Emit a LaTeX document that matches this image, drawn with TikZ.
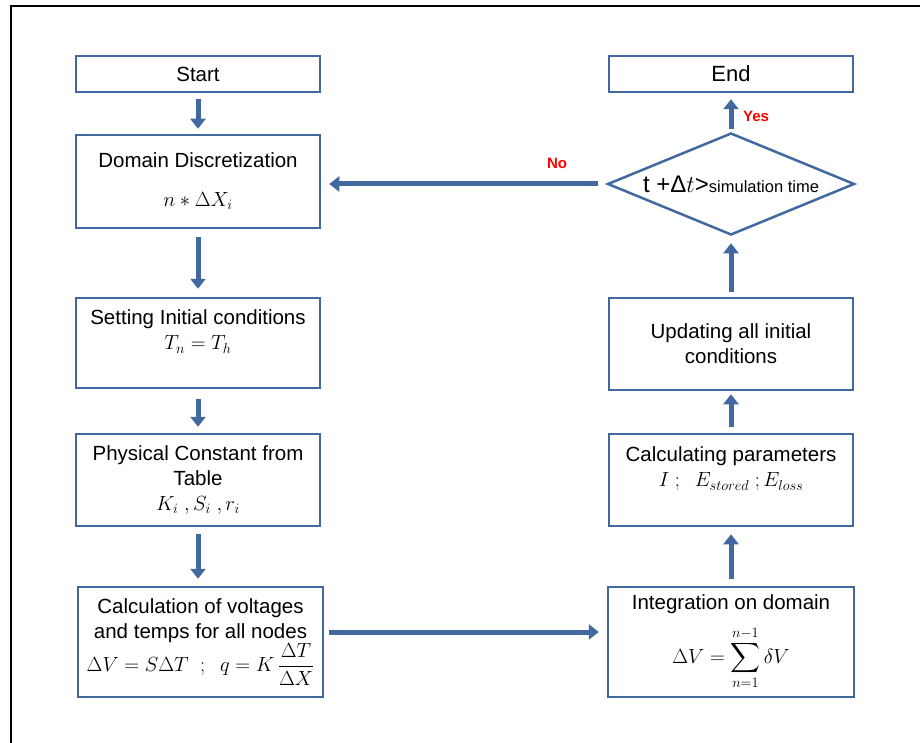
\documentclass[tikz,border=0pt]{standalone}
\usepackage{fix-cm}
\usepackage{amsmath}
\usepackage{fontspec}
\setmainfont{Liberation Sans}
\usetikzlibrary{arrows.meta,shapes.geometric}
\definecolor{flowblue}{RGB}{65,105,160}

\begin{document}
\begin{tikzpicture}[x=1pt,y=-1pt,
    box/.style={draw=flowblue,line width=2.5pt,minimum width=244pt,align=center,inner sep=2pt,font=\fontsize{20.5}{25}\selectfont},
    flow/.style={-{Triangle[width=15pt,length=10pt]},draw=flowblue,line width=5pt},
    answer/.style={text=red,font=\fontsize{15}{18}\selectfont\bfseries}]
        \useasboundingbox (0,0) rectangle (920,743);
        % Frame
        \draw[line width=2.5pt] (920,6) -- (11,6) -- (11,743);
        % Left column
        \node[box,minimum height=36pt] (start) at (198,74) {Start};
        \node[box,minimum height=93pt] (domain) at (198,181.5) {Domain Discretization\\[14pt] $n \ast \Delta X_i$};
        \node[box,minimum height=90pt] (setting) at (198,343) {Setting Initial conditions\\ $T_n = T_h$\rule[-26pt]{0pt}{0pt}};
        \node[box,minimum height=92pt] (physical) at (198,480) {Physical Constant from\\ Table\\ $K_i\ ,S_i\ ,r_i$};
        \node[box,minimum height=110pt,minimum width=245pt] (calc) at (200.5,642) {Calculation of voltages\\ and temps for all nodes\\ $\Delta V = S\Delta T\ \ ;\ \ q = K\,\dfrac{\Delta T}{\Delta X}$};
        % Right column
        \node[box,minimum height=36pt,font=\fontsize{22}{25}\selectfont] (end) at (731,74) {End};
        \node[draw=flowblue,line width=2.5pt,diamond,minimum width=247pt,minimum height=102pt,inner sep=0pt] (check) at (731,184)
          {\makebox[0pt]{{\fontsize{24}{26}\selectfont t +Δ$t$>}{\fontsize{16.5}{18}\selectfont simulation time}}};
        \node[box,minimum height=92pt] (update) at (731,344) {Updating all initial\\ conditions};
        \node[box,minimum height=92pt] (param) at (731,480) {Calculating parameters\\ $I\ ;\ \ E_{stored}\ ; E_{loss}$\rule[-26pt]{0pt}{0pt}};
        \node[box,minimum height=110pt,minimum width=246pt] (integ) at (731,642) {Integration on domain\\[11pt] $\displaystyle \Delta V = \sum_{n=1}^{n-1} \delta V$};
        % Arrows
        \draw[flow,shorten <=6pt,shorten >=5pt] (start) -- (domain);
        \draw[flow,shorten <=8pt,shorten >=8pt] (domain) -- (setting);
        \draw[flow,shorten <=10pt,shorten >=6pt] (setting) -- (physical);
        \draw[flow,shorten <=7pt,shorten >=7pt] (physical.south) -- (physical.south |- calc.north);
        \draw[flow,shorten <=5pt,shorten >=8pt] ([yshift=10pt]calc.east) -- ([yshift=10pt]integ.west);
        \draw[flow,shorten <=7pt,shorten >=7pt] (integ) -- (param);
        \draw[flow,shorten <=6pt,shorten >=3pt] (param) -- (update);
        \draw[flow,shorten <=5pt,shorten >=7pt] (update) -- (check);
        \draw[flow,shorten <=3pt,shorten >=6pt] (check) -- (end);
        \draw[flow,shorten <=8pt,shorten >=8pt] (check.west) -- (check.west -| domain.east);
        % Labels
        \node[answer] (yes) at (756,116) {Yes};
        \node[answer] (no) at (557,163) {No};
    \end{tikzpicture}
\end{document}
